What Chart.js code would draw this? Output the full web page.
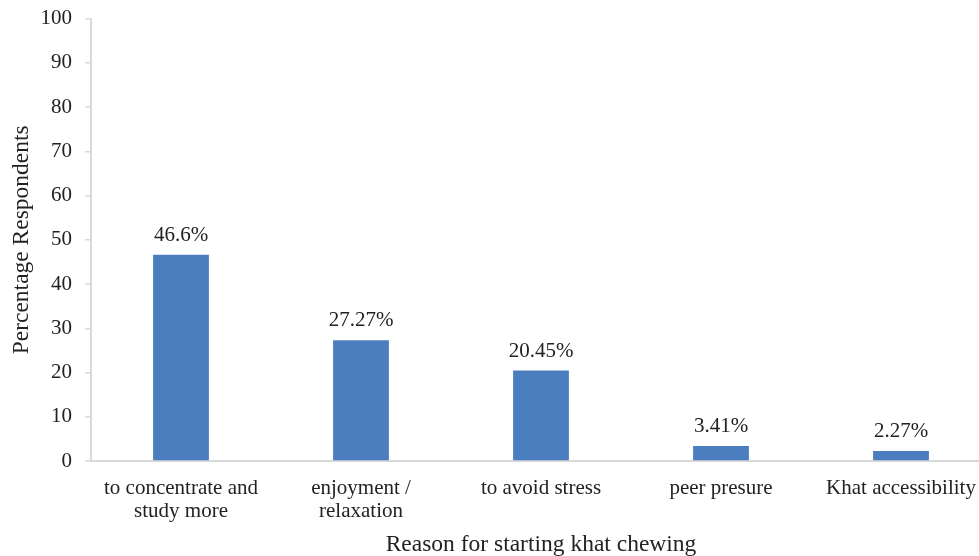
<!DOCTYPE html>
<html>
<head>
<meta charset="utf-8">
<script src="https://cdn.jsdelivr.net/npm/chart.js@4"></script>
<style>
    html, body { margin: 0; padding: 0; background: #fff; overflow: hidden; }
    #wrap { position: relative; top: -7px; width: 1000px; height: 563px; }
</style>
</head>
<body>
<div id="wrap"><canvas id="reasonChart"></canvas></div>
<script>
// ===== DATA =====
const categories = [
    ["to concentrate and", "study more"],
    ["enjoyment /", "relaxation"],
    "to avoid stress",
    "peer presure",
    "Khat accessibility"
];
const percentValues = [46.6, 27.27, 20.45, 3.41, 2.27];
const valueLabels = ["46.6%", "27.27%", "20.45%", "3.41%", "2.27%"];
const yTicks = [0, 10, 20, 30, 40, 50, 60, 70, 80, 90, 100];

const FONT = "'Liberation Serif', 'Times New Roman', serif";
const AXIS_GREY = '#d9d9d9';

// draw the % labels above each bar
const barLabels = {
    id: 'barLabels',
    afterDatasetsDraw(chart) {
        const ctx = chart.ctx;
        const meta = chart.getDatasetMeta(0);
        ctx.save();
        ctx.font = "21px " + FONT;
        ctx.fillStyle = '#222';
        ctx.textAlign = 'center';
        ctx.textBaseline = 'bottom';
        meta.data.forEach((bar, i) => {
            ctx.fillText(valueLabels[i], bar.x, bar.y - 9);
        });
        ctx.restore();
    }
};

window.onload = function () {
    const ctx = document.getElementById('reasonChart').getContext('2d');
    new Chart(ctx, {
        type: 'bar',
        data: {
            labels: categories,
            datasets: [{
                data: percentValues,
                backgroundColor: '#4a7ebf',
                categoryPercentage: 1,
                barPercentage: 0.31
            }]
        },
        options: {
            responsive: true,
            maintainAspectRatio: false,
            animation: false,
            layout: { padding: { top: 0, right: 9, left: 0, bottom: 0 } },
            plugins: {
                legend: { display: false },
                tooltip: { enabled: false }
            },
            scales: {
                x: {
                    grid: { display: false },
                    border: { display: true, color: AXIS_GREY, width: 2 },
                    ticks: {
                        color: '#222',
                        font: { family: FONT, size: 21, lineHeight: 1.1 },
                        maxRotation: 0,
                        autoSkip: false,
                        padding: 8
                    },
                    title: {
                        display: true,
                        text: 'Reason for starting khat chewing',
                        color: '#222',
                        font: { family: FONT, size: 23.5 },
                        padding: { top: 11, bottom: -3 }
                    },
                    afterFit(scale) { scale.height = 95; }
                },
                y: {
                    min: 0,
                    max: 100,
                    afterBuildTicks(scale) {
                        scale.ticks = yTicks.map(v => ({ value: v }));
                    },
                    grid: {
                        drawOnChartArea: false,
                        drawTicks: true,
                        tickLength: 6,
                        color: AXIS_GREY,
                        lineWidth: 1.5
                    },
                    border: { display: true, color: AXIS_GREY, width: 2 },
                    ticks: {
                        color: '#222',
                        font: { family: FONT, size: 21 },
                        padding: 13
                    },
                    title: {
                        display: true,
                        text: 'Percentage Respondents',
                        color: '#222',
                        font: { family: FONT, size: 23.5 },
                        padding: { top: 8, bottom: 4 }
                    },
                    afterFit(scale) { scale.width = 91; }
                }
            }
        },
        plugins: [barLabels]
    });
};
</script>
</body>
</html>
